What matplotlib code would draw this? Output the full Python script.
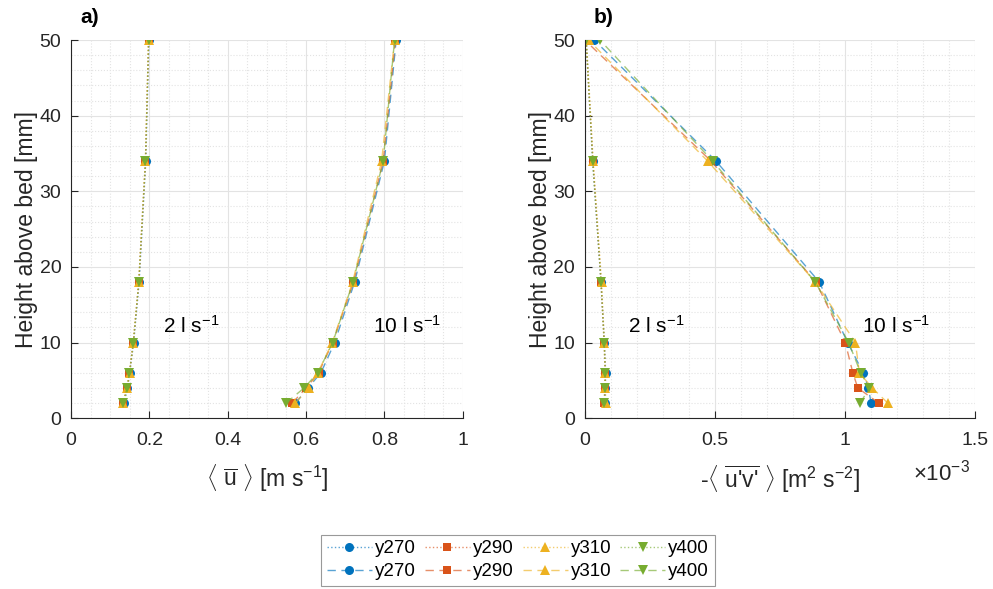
import numpy as np
import matplotlib.pyplot as plt
from matplotlib.colors import to_rgba
from matplotlib.ticker import MultipleLocator

plt.rcParams['font.family'] = ['Liberation Sans', 'DejaVu Sans']
plt.rcParams['mathtext.fontset'] = 'custom'
plt.rcParams['mathtext.rm'] = 'Liberation Sans'
plt.rcParams['mathtext.it'] = 'Liberation Sans:italic'

height = [2, 4, 6, 10, 18, 34, 50]
names = ['y270', 'y290', 'y310', 'y400']

# mean velocity [m/s], 2 l/s
u_2 = {
    'y270': [0.136, 0.144, 0.150, 0.160, 0.174, 0.191, 0.199],
    'y290': [0.133, 0.143, 0.149, 0.159, 0.173, 0.190, 0.198],
    'y310': [0.134, 0.144, 0.150, 0.159, 0.173, 0.190, 0.198],
    'y400': [0.132, 0.143, 0.149, 0.159, 0.173, 0.190, 0.198],
}
# mean velocity [m/s], 10 l/s
u_10 = {
    'y270': [0.573, 0.605, 0.638, 0.673, 0.724, 0.800, 0.830],
    'y290': [0.565, 0.600, 0.632, 0.668, 0.721, 0.797, 0.828],
    'y310': [0.573, 0.607, 0.630, 0.667, 0.719, 0.793, 0.826],
    'y400': [0.549, 0.595, 0.630, 0.668, 0.720, 0.797, 0.826],
}
# -<u'v'> [1e-3 m2/s2], 2 l/s
uv_2 = {
    'y270': [0.078, 0.078, 0.080, 0.075, 0.062, 0.030, 0.005],
    'y290': [0.075, 0.077, 0.078, 0.074, 0.062, 0.031, 0.004],
    'y310': [0.080, 0.079, 0.079, 0.075, 0.064, 0.032, 0.006],
    'y400': [0.073, 0.077, 0.078, 0.074, 0.062, 0.030, 0.005],
}
# -<u'v'> [1e-3 m2/s2], 10 l/s
uv_10 = {
    'y270': [1.100, 1.090, 1.070, 1.010, 0.901, 0.504, 0.036],
    'y290': [1.130, 1.049, 1.030, 1.001, 0.888, 0.485, 0.000],
    'y310': [1.164, 1.105, 1.055, 1.040, 0.886, 0.472, 0.014],
    'y400': [1.058, 1.094, 1.060, 1.014, 0.886, 0.491, 0.058],
}

colors = {'y270': '#0072BD', 'y290': '#D95319', 'y310': '#EDB120', 'y400': '#77AC30'}
markers = {'y270': 'o', 'y290': 's', 'y310': '^', 'y400': 'v'}
msizes = {'y270': 6.5, 'y290': 5.5, 'y310': 7, 'y400': 7}

fig = plt.figure(figsize=(9.93, 5.89), dpi=100)
ax1 = fig.add_axes([0.0715, 0.290, 0.3945, 0.642])
ax2 = fig.add_axes([0.589, 0.290, 0.393, 0.642])

handles = []
for ax, d2, d10 in [(ax1, u_2, u_10), (ax2, uv_2, uv_10)]:
    for n in names:
        lc = to_rgba(colors[n], 0.65)
        h1, = ax.plot(d2[n], height, ls=':', lw=1, color=lc, marker=markers[n],
                      ms=msizes[n], mew=0, mfc=colors[n], label=n)
        h2, = ax.plot(d10[n], height, ls='--', lw=1, color=lc, marker=markers[n],
                      ms=msizes[n], mew=0, mfc=colors[n], label=n, dashes=(6, 4))
        if ax is ax1:
            handles += [h1, h2]

ax1.set_xlim(0, 1)
ax1.set_xticks([0, 0.2, 0.4, 0.6, 0.8, 1])
ax1.set_xticklabels(['0', '0.2', '0.4', '0.6', '0.8', '1'])
ax1.xaxis.set_minor_locator(MultipleLocator(0.05))
ax2.set_xlim(0, 1.5)
ax2.set_xticks([0, 0.5, 1, 1.5])
ax2.set_xticklabels(['0', '0.5', '1', '1.5'])
ax2.xaxis.set_minor_locator(MultipleLocator(0.1))

for ax in (ax1, ax2):
    ax.set_ylim(0, 50)
    ax.set_yticks([0, 10, 20, 30, 40, 50])
    ax.yaxis.set_minor_locator(MultipleLocator(2))
    ax.grid(which='major', color='#e3e3e3', lw=0.8)
    ax.grid(which='minor', color='#e3e3e3', lw=0.8, ls=':')
    ax.set_axisbelow(True)
    for s in ('top', 'right'):
        ax.spines[s].set_visible(False)
    for s in ('left', 'bottom'):
        ax.spines[s].set_color('#262626')
    ax.tick_params(which='major', direction='in', length=5, labelsize=14,
                   colors='#262626')
    ax.tick_params(axis='x', which='major', pad=10)
    ax.tick_params(axis='y', which='major', pad=7)
    ax.tick_params(which='minor', length=0)
    ax.set_ylabel('Height above bed [mm]', fontsize=16.5, color='#262626', labelpad=1)

ax1.set_xlabel(r'$\langle\ \overline{\mathrm{u}}\ \rangle$ [m s$^{-1}$]', fontsize=16.5,
               color='#262626', labelpad=10)
ax2.set_xlabel(r"-$\langle\ \overline{\mathrm{u}\text{'}\mathrm{v}\text{'}}\ \rangle$ [m$^2$ s$^{-2}$]",
               fontsize=16.5, color='#262626', labelpad=10)

ax1.text(0.235, 11.3, r'2 l s$^{-1}$', fontsize=15)
ax1.text(0.77, 11.3, r'10 l s$^{-1}$', fontsize=15)
ax2.text(0.165, 11.3, r'2 l s$^{-1}$', fontsize=15)
ax2.text(1.065, 11.3, r'10 l s$^{-1}$', fontsize=15)

fig.text(0.0805, 0.971, 'a)', fontsize=15, fontweight='bold', va='center')
fig.text(0.598, 0.971, 'b)', fontsize=15, fontweight='bold', va='center')
ax2.text(0.84, -0.165, r'$\times$10$^{-3}$', transform=ax2.transAxes, fontsize=16,
         color='#262626')

leg = fig.legend(handles=handles, labels=[h.get_label() for h in handles], ncol=4,
                 loc='center', bbox_to_anchor=(0.5215, 0.049), fontsize=13.5,
                 handlelength=2.4, handletextpad=0.15, columnspacing=0.5,
                 labelspacing=0.3, borderpad=0.3, fancybox=False, frameon=True)
leg.get_frame().set_edgecolor('#808080')
leg.get_frame().set_linewidth(0.8)

fig.savefig('out.png', dpi=100)
